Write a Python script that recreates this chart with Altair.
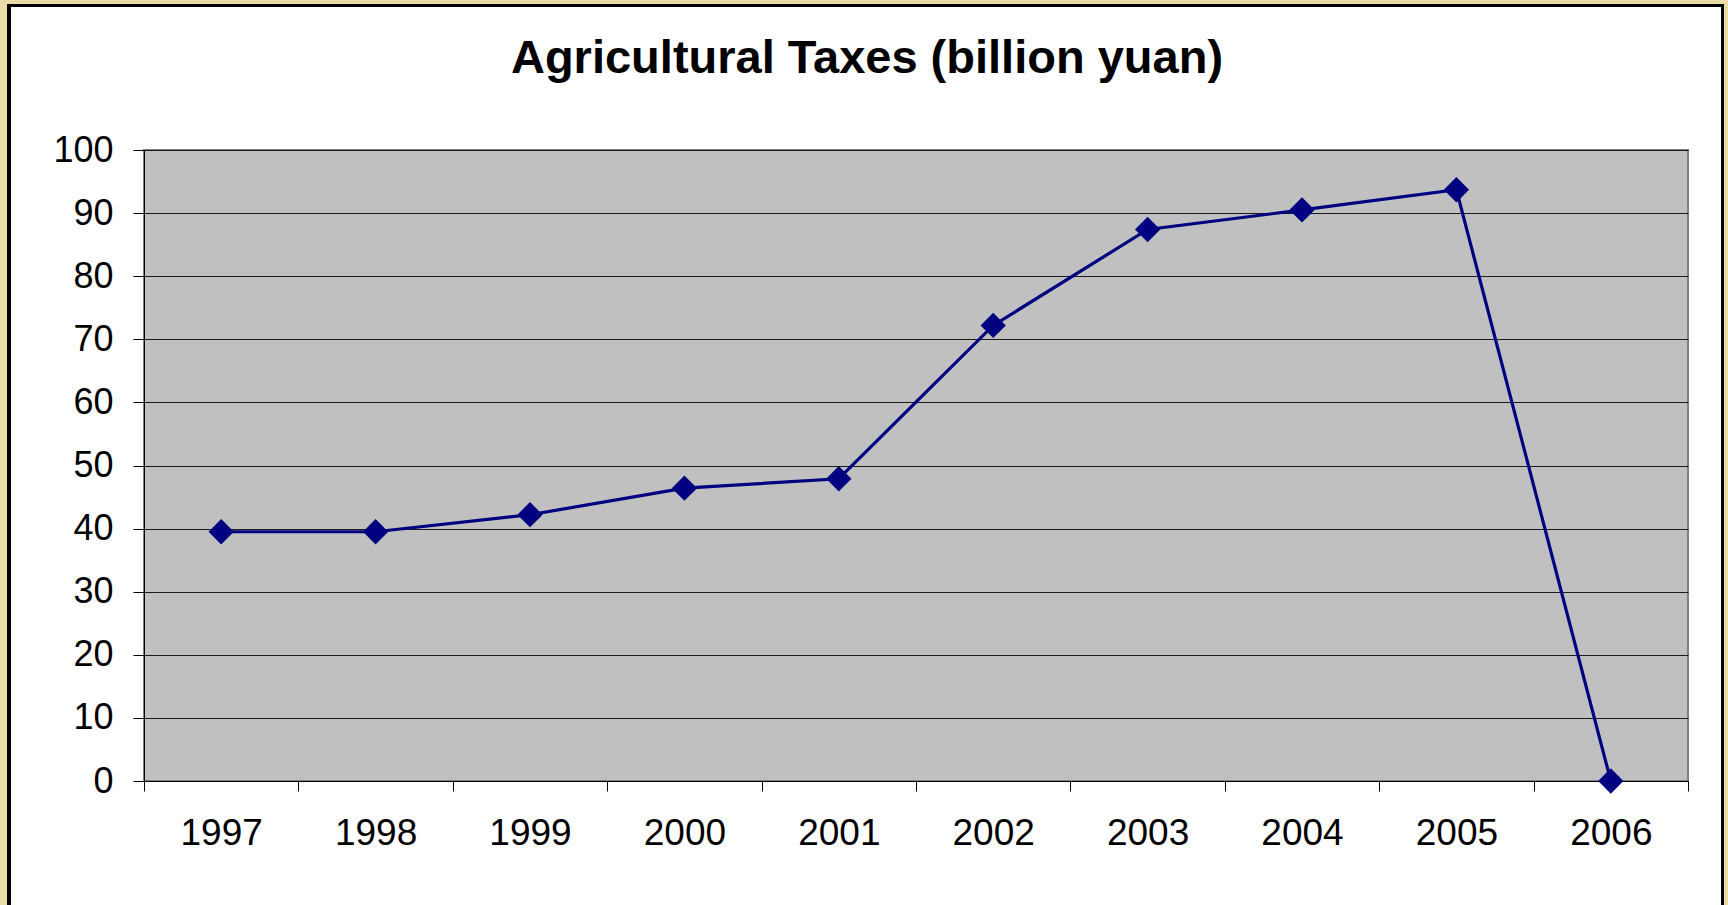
import altair as alt
import pandas as pd

years = ["1997", "1998", "1999", "2000", "2001", "2002", "2003", "2004", "2005", "2006"]
taxes = [39.5, 39.5, 42.2, 46.4, 47.9, 72.2, 87.4, 90.5, 93.7, 0.0]
title_text = ["Agricultural Taxes (billion yuan)"]

df = pd.DataFrame({"year": years, "tax": taxes})
tdf = pd.DataFrame({"t": title_text})

W, H = 1544, 631
PAD_L, PAD_T, PAD_R, PAD_B = 144, 150, 40, 124

one = pd.DataFrame({"k": [0]})

def strip(x1, x2, y1, y2, color):
    return alt.Chart(one).mark_rect(color=color, opacity=1).encode(
        x=alt.value(x1), x2=alt.value(x2), y=alt.value(y1), y2=alt.value(y2)
    )

BEIGE = "#eadba8"
frame = [
    strip(-PAD_L, -137, -PAD_T, H + PAD_B, BEIGE),
    strip(-137, -133, -146, H + PAD_B, "#000000"),
    strip(-PAD_L, W + PAD_R, -PAD_T, -146, BEIGE),
    strip(-137, 1580, -146, -143, "#000000"),
    strip(1577, 1580, -146, H + PAD_B, "#000000"),
    strip(1580, W + PAD_R, -PAD_T, H + PAD_B, BEIGE),
]

title = alt.Chart(tdf).mark_text(
    font="Liberation Sans", fontSize=47, fontWeight="bold", color="#000000",
    align="center", baseline="alphabetic",
).encode(text="t:N", x=alt.value(867 - PAD_L), y=alt.value(73 - PAD_T))

x_enc = alt.X(
    "year:N",
    sort=years,
    scale=alt.Scale(type="band", paddingInner=0, paddingOuter=0),
    axis=alt.Axis(
        title=None, labelAngle=0, tickBand="extent", tickSize=10,
        tickColor="#000000", domainColor="#000000", labelPadding=24,
        labelFontSize=37, labelFont="Liberation Sans", labelColor="#000000",
        grid=False,
    ),
)
y_enc = alt.Y(
    "tax:Q",
    scale=alt.Scale(domain=[0, 100], nice=False),
    axis=alt.Axis(
        title=None, values=list(range(0, 101, 10)), tickSize=11,
        tickColor="#000000", domainColor="#000000", labelPadding=20,
        labelFontSize=36, labelFont="Liberation Sans", labelColor="#000000",
        grid=True, gridColor="#1a1a1a", gridWidth=1,
    ),
)

line = alt.Chart(df).mark_line(color="#000080", strokeWidth=3.2).encode(x=x_enc, y=y_enc)
pts = alt.Chart(df).mark_point(
    shape="diamond", filled=True, size=640, color="#000080", opacity=1
).encode(x=x_enc, y=y_enc)

chart = alt.layer(*frame, title, line, pts).properties(
    width=W, height=H,
    autosize=alt.AutoSizeParams(type="none"),
    padding={"left": PAD_L, "top": PAD_T, "right": PAD_R, "bottom": PAD_B},
).configure(background="#ffffff").configure_view(
    fill="#c0c0c0", stroke="#808080", strokeWidth=2
)

chart.save("out.html", embed_options={"renderer": "svg", "actions": False})
